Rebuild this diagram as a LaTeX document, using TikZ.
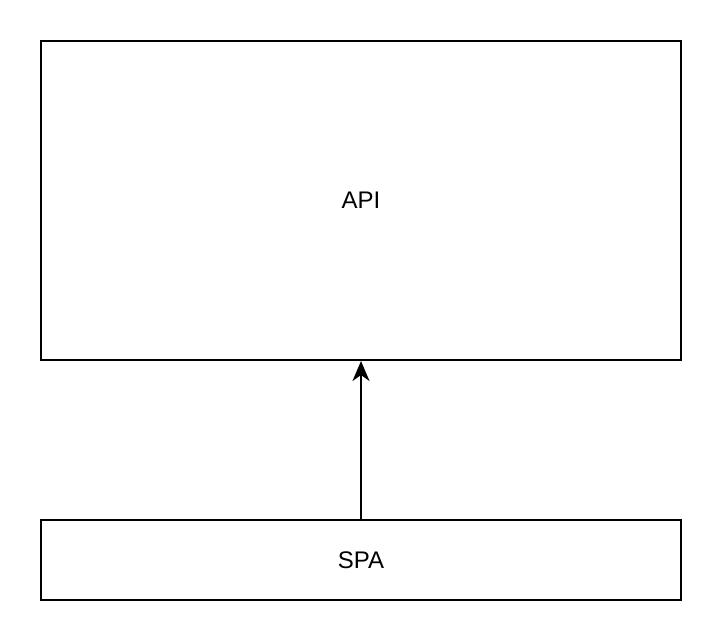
\documentclass[tikz,border=0pt]{standalone}
\usepackage{fontspec}
\setmainfont{Liberation Sans}
\usetikzlibrary{arrows.meta}
\begin{document}
\begin{tikzpicture}[x=1pt,y=-1pt,
  boxstyle/.style={draw=black,line width=2pt,fill=white,inner sep=0pt,font=\fontsize{24}{28}\selectfont},
  arrowstyle/.style={line width=2pt,-{Stealth[length=20pt,width=17pt,inset=6pt]}}]
\useasboundingbox[fill=white] (0,0) rectangle (722,642);
\node[boxstyle,minimum width=640pt,minimum height=319pt] (api) at (361,200.5) {API};
\node[boxstyle,minimum width=640pt,minimum height=80pt] (spa) at (361,560) {SPA};
\draw[arrowstyle] (spa.north) -- (api.south);
\end{tikzpicture}
\end{document}
